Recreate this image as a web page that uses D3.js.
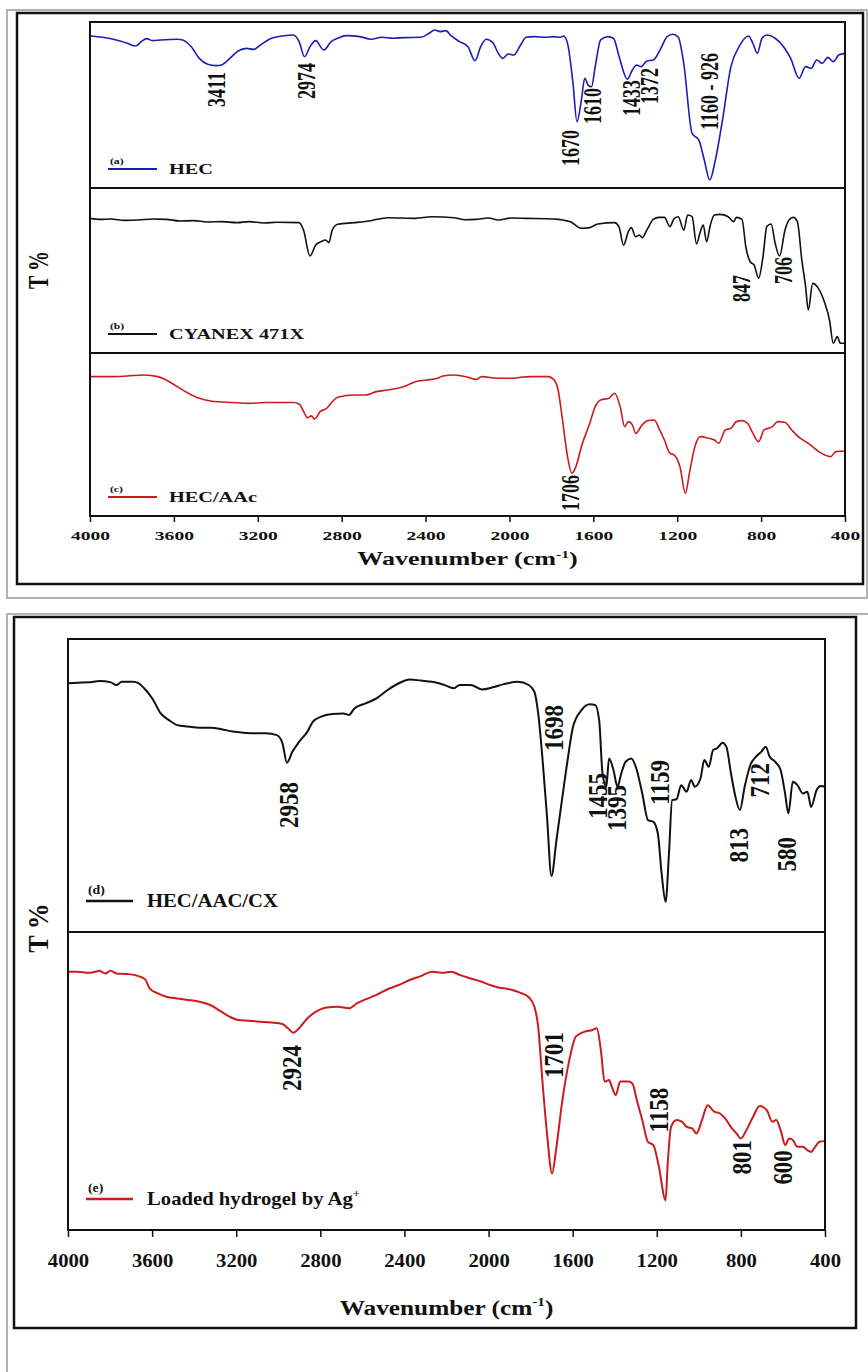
<!DOCTYPE html>
<html>
<head>
<meta charset="utf-8">
<script src="https://cdn.jsdelivr.net/npm/d3@7"></script>
<style>
  body { margin: 0; background: #fff; }
  svg { display: block; }
</style>
</head>
<body>
<svg id="chart" width="868" height="1372"></svg>
<script>
// wavenumber ticks shared by both figures
const wavenumberTicks = [4000, 3600, 3200, 2800, 2400, 2000, 1600, 1200, 800, 400];

// spectra: [wavenumber (cm-1), relative T %]
const hec = [
  [4000, 91.6], [3941, 90.8], [3888, 89.6], [3822, 87.2], [3782, 85.5], [3756, 88.2], [3729, 90.0],
  [3703, 88.8], [3663, 89.2], [3584, 89.6], [3558, 89.2], [3518, 85.2], [3479, 78.1], [3439, 74.5],
  [3399, 73.7], [3373, 74.1], [3333, 78.1], [3294, 82.5], [3254, 84.1], [3220, 83.5], [3188, 86.1],
  [3135, 90.2], [3083, 91.6], [3030, 92.2], [3003, 88.2], [2977, 79.1], [2951, 85.1], [2924, 88.8],
  [2885, 83.1], [2850, 88.2], [2819, 90.2], [2779, 91.8], [2713, 91.2], [2660, 89.6], [2607, 90.8],
  [2555, 90.2], [2502, 90.6], [2423, 90.8], [2383, 93.2], [2357, 95.2], [2330, 94.2], [2304, 94.8],
  [2277, 91.6], [2238, 88.2], [2198, 85.1], [2164, 76.7], [2137, 85.1], [2111, 89.6], [2079, 87.5],
  [2053, 81.1], [2032, 78.1], [2006, 80.7], [1979, 80.1], [1947, 86.1], [1921, 90.8], [1881, 91.2],
  [1829, 90.8], [1789, 91.2], [1757, 90.8], [1742, 91.6], [1723, 87.1], [1697, 63.0], [1678, 39.9],
  [1657, 53.0], [1641, 66.1], [1625, 62.0], [1609, 61.0], [1591, 73.1], [1565, 89.2], [1530, 91.2],
  [1504, 90.2], [1477, 79.1], [1438, 65.5], [1414, 71.1], [1393, 74.1], [1372, 73.1], [1345, 76.5],
  [1314, 77.1], [1282, 83.1], [1248, 91.2], [1221, 92.6], [1195, 90.8], [1169, 75.1], [1129, 32.9],
  [1097, 28.9], [1071, 16.9], [1045, 4.8], [1018, 16.9], [984, 41.0], [944, 73.1], [905, 85.1],
  [878, 90.2], [860, 91.6], [839, 87.1], [818, 81.1], [796, 90.2], [773, 92.2], [733, 90.2],
  [693, 85.1], [659, 78.1], [619, 66.1], [588, 73.1], [561, 72.1], [535, 77.1], [509, 75.1],
  [482, 78.7], [456, 76.1], [430, 80.1], [400, 81.1]
];

const cyanex = [
  [4000, 81.6], [3950, 81.0], [3901, 81.2], [3835, 80.4], [3769, 80.6], [3700, 81.2], [3637, 81.0],
  [3570, 80.0], [3505, 80.2], [3440, 79.4], [3373, 79.6], [3300, 79.0], [3241, 79.6], [3170, 78.8],
  [3109, 79.2], [3003, 79.0], [2982, 74.5], [2951, 58.8], [2924, 65.5], [2898, 67.5], [2877, 68.5],
  [2861, 66.9], [2845, 74.5], [2819, 78.0], [2739, 79.0], [2660, 80.2], [2581, 82.0], [2449, 81.6],
  [2370, 82.6], [2264, 82.0], [2210, 80.8], [2159, 81.0], [2100, 81.8], [2053, 80.6], [1990, 81.8],
  [1921, 81.6], [1789, 81.2], [1710, 79.6],
  [1657, 75.6], [1617, 76.0], [1578, 78.2], [1499, 79.0], [1478, 76.6], [1456, 65.3], [1433, 73.5],
  [1419, 76.0], [1398, 70.5], [1380, 71.5], [1367, 69.9], [1345, 74.5], [1314, 81.0], [1287, 82.2],
  [1261, 82.2], [1235, 76.6], [1214, 81.6], [1195, 82.6], [1169, 74.5], [1150, 83.6], [1129, 82.6],
  [1108, 66.1], [1090, 73.5], [1076, 77.6], [1060, 67.5], [1042, 77.6], [1023, 83.6], [997, 84.0],
  [957, 82.6], [931, 79.6], [918, 82.2], [891, 81.0], [873, 64.4], [852, 55.3], [833, 53.3],
  [812, 45.3], [791, 58.4], [773, 76.6], [752, 78.2], [733, 66.5], [712, 58.8], [686, 74.5],
  [667, 80.6], [646, 82.2], [627, 79.6], [606, 56.4], [588, 40.2], [575, 26.1], [554, 42.2],
  [527, 39.2], [496, 30.1], [474, 20.0], [456, 5.9], [437, 9.9], [422, 5.9], [400, 5.9]
];

const hecAAc = [
  [4000, 85.5], [3901, 85.5], [3822, 85.9], [3743, 86.5], [3677, 85.5], [3637, 83.4], [3584, 79.4],
  [3531, 75.3], [3479, 72.2], [3426, 70.6], [3320, 69.6], [3241, 69.1], [3162, 69.6], [3030, 69.6],
  [3003, 68.7], [2977, 63.0], [2964, 60.3], [2945, 61.4], [2929, 59.5], [2903, 64.0], [2871, 66.1],
  [2845, 70.1], [2819, 72.8], [2739, 74.2], [2687, 74.2], [2634, 76.3], [2581, 77.3], [2502, 79.4],
  [2449, 82.4], [2396, 83.4], [2343, 84.5], [2317, 85.9], [2264, 86.5], [2198, 85.1], [2159, 83.8],
  [2132, 85.5], [2053, 84.5], [1987, 84.5], [1947, 85.1], [1895, 85.5], [1816, 85.5], [1789, 83.8],
  [1768, 77.3], [1749, 61.0], [1723, 36.4], [1702, 26.2], [1683, 30.3], [1657, 42.5], [1617, 56.9],
  [1591, 67.1], [1565, 71.2], [1525, 72.2], [1499, 75.3], [1472, 67.1], [1451, 54.8], [1433, 57.9],
  [1414, 55.9], [1398, 50.7], [1367, 55.9], [1340, 58.5], [1309, 58.9], [1287, 53.8], [1261, 46.6],
  [1235, 38.5], [1214, 37.4], [1187, 30.3], [1161, 13.9], [1142, 26.2], [1116, 42.5], [1090, 48.7],
  [1050, 47.7], [1023, 46.6], [1002, 44.6], [971, 52.8], [944, 53.8], [918, 57.9], [891, 58.5],
  [865, 56.9], [839, 50.7], [812, 45.6], [786, 52.8], [746, 54.8], [720, 57.9], [685, 57.3],
  [654, 52.8], [614, 47.7], [575, 44.6], [535, 40.5], [496, 37.4], [469, 36.4], [443, 39.5], [400, 39.9]
];

const hecAAcCX = [
  [4000, 84.9], [3955, 85.1], [3902, 85.2], [3849, 85.7], [3796, 85.2], [3770, 84.3], [3744, 85.4],
  [3691, 85.4], [3665, 84.9], [3638, 83.2], [3599, 79.7], [3559, 74.6], [3520, 72.3], [3480, 70.6],
  [3428, 70.1], [3375, 69.7], [3322, 69.7], [3270, 69.2], [3217, 68.4], [3165, 68.0], [3112, 67.8],
  [3059, 67.8], [3007, 67.2], [2980, 64.4], [2959, 57.8], [2933, 61.5], [2901, 64.9], [2862, 68.3],
  [2835, 71.8], [2796, 73.5], [2743, 74.4], [2691, 74.6], [2664, 74.1], [2638, 76.3], [2585, 78.0],
  [2533, 79.7], [2480, 82.6], [2427, 84.9], [2375, 86.2], [2322, 85.8], [2269, 85.4], [2217, 84.5],
  [2164, 83.2], [2138, 84.3], [2085, 84.3], [2032, 82.8], [1980, 83.5], [1927, 84.6], [1861, 85.4],
  [1809, 84.3], [1782, 82.0], [1764, 74.6], [1743, 58.7], [1722, 39.3], [1701, 19.1], [1677, 31.4],
  [1651, 45.0], [1624, 58.7], [1598, 70.1], [1558, 75.7], [1519, 77.7], [1493, 77.5], [1474, 72.3],
  [1458, 54.1], [1440, 49.6], [1427, 59.2], [1406, 55.3], [1387, 49.6], [1369, 54.1], [1348, 58.1],
  [1321, 59.2], [1300, 56.4], [1269, 47.3], [1242, 38.2], [1216, 37.6], [1195, 33.6], [1177, 20.0],
  [1158, 10.3], [1142, 26.8], [1127, 45.0], [1106, 45.3], [1084, 50.1], [1058, 47.9], [1037, 51.9],
  [1019, 49.6], [992, 52.4], [974, 58.7], [953, 56.4], [932, 62.1], [913, 62.7], [887, 64.6],
  [869, 63.2], [847, 54.1], [826, 46.2], [805, 41.6], [782, 49.6], [755, 57.0], [729, 59.8],
  [703, 61.5], [682, 63.2], [663, 59.8], [637, 58.1], [611, 55.3], [590, 47.3], [574, 40.5],
  [553, 51.3], [532, 50.2], [505, 47.3], [484, 47.9], [466, 42.7], [440, 48.4], [421, 49.8], [400, 49.6]
];

const loadedAg = [
  [4000, 86.7], [3955, 86.7], [3902, 86.3], [3849, 86.9], [3823, 86.1], [3797, 87.0], [3770, 86.1],
  [3718, 85.9], [3665, 85.2], [3633, 84.1], [3612, 81.1], [3573, 79.4], [3533, 78.3], [3481, 77.7],
  [3428, 77.2], [3375, 76.6], [3323, 75.5], [3283, 73.8], [3244, 72.1], [3191, 70.5], [3138, 70.2],
  [3086, 69.9], [3033, 69.6], [2980, 69.1], [2954, 67.7], [2928, 66.2], [2901, 67.7], [2862, 71.0],
  [2822, 73.2], [2770, 74.7], [2717, 74.9], [2664, 74.4], [2625, 76.1], [2585, 77.4], [2533, 78.9],
  [2480, 80.8], [2427, 82.2], [2375, 83.9], [2322, 85.2], [2269, 86.7], [2217, 86.3], [2177, 86.7],
  [2138, 85.6], [2085, 84.4], [2032, 83.3], [1993, 82.2], [1953, 81.4], [1901, 80.8], [1848, 79.6],
  [1809, 78.1], [1782, 74.9], [1764, 68.2], [1743, 49.2], [1722, 32.4], [1698, 19.0], [1677, 27.9],
  [1651, 42.5], [1616, 57.0], [1585, 64.9], [1545, 66.5], [1506, 67.1], [1485, 67.7], [1466, 60.4],
  [1448, 49.8], [1427, 50.3], [1414, 48.1], [1395, 45.3], [1374, 49.8], [1335, 49.8], [1316, 49.2],
  [1295, 43.6], [1269, 36.9], [1242, 29.6], [1216, 28.5], [1190, 21.2], [1158, 10.0], [1148, 22.3],
  [1132, 34.6], [1106, 36.9], [1079, 36.3], [1058, 34.6], [1032, 34.1], [1011, 32.4], [985, 36.9],
  [958, 41.9], [927, 39.7], [900, 39.1], [874, 37.4], [848, 34.6], [821, 32.4], [800, 30.7],
  [774, 33.5], [742, 38.0], [711, 41.6], [677, 40.2], [650, 36.3], [632, 36.9], [611, 33.5],
  [589, 28.5], [571, 30.7], [553, 30.2], [532, 27.9], [505, 27.9], [484, 26.8], [466, 26.2],
  [447, 27.9], [426, 29.6], [400, 29.9]
];

// peak annotations: [text, wavenumber where drawn, T level of the label's upper end]
const hecPeaks = [
  ["3411", 3399, 69.9], ["2974", 2970, 75.3], ["1670", 1711, 34.9], ["1610", 1607, 60.2],
  ["1433", 1421, 65.1], ["1372", 1335, 72.3], ["1160 - 926", 1049, 81.3]
];
const cyanexPeaks = [["847", 896, 47.3], ["706", 696, 58.2]];
const hecAAcPeaks = [["1706", 1711, 25.2]];
const hecAAcCXPeaks = [
  ["2958", 2949, 51.2], ["1698", 1689, 77.5], ["1455", 1480, 54.3], ["1395", 1389, 50.2],
  ["1159", 1185, 58.7], ["813", 809, 35.5], ["712", 709, 57.7], ["580", 581, 32.4]
];
const loadedAgPeaks = [
  ["2924", 2935, 62.1], ["1701", 1689, 66.4], ["1158", 1189, 47.7], ["801", 795, 30.2], ["600", 600, 26.8]
];

const FONT = '"Liberation Serif", "Times New Roman", serif';
const BLUE = "#1d1db4";
const RED = "#cc1b1f";
const BLACK = "#111";

const svg = d3.select("#chart");
svg.append("rect").attr("width", 868).attr("height", 1372).attr("fill", "#fff");

// text helper: figures are stretched horizontally, so glyphs get scale(sx,1)
function stretchedText(g, x, y, str, size, sx, opts = {}) {
  return g.append("text")
    .attr("transform", `translate(${x},${y}) scale(${sx},1)` + (opts.rotate ? " rotate(-90)" : ""))
    .attr("font-family", FONT)
    .attr("font-weight", "bold")
    .attr("font-size", size)
    .attr("fill", opts.fill || BLACK)
    .attr("text-anchor", opts.anchor || "start")
    .attr("dy", opts.dy || 0)
    .text(str);
}

function drawFigure(cfg) {
  const g = svg.append("g");

  // outer gray border and black frame
  g.append("rect")
    .attr("x", cfg.gray[0]).attr("y", cfg.gray[1])
    .attr("width", cfg.gray[2] - cfg.gray[0]).attr("height", cfg.gray[3] - cfg.gray[1])
    .attr("fill", "none").attr("stroke", "#999").attr("stroke-width", 1.5);
  g.append("rect")
    .attr("x", cfg.frame[0]).attr("y", cfg.frame[1])
    .attr("width", cfg.frame[2] - cfg.frame[0]).attr("height", cfg.frame[3] - cfg.frame[1])
    .attr("fill", "none").attr("stroke", BLACK).attr("stroke-width", 2.5);

  const x = d3.scaleLinear().domain([4000, 400]).range([cfg.left, cfg.right]);
  const bottom = cfg.bounds[cfg.bounds.length - 1];

  cfg.panels.forEach((p, i) => {
    const y = d3.scaleLinear().domain([0, 100]).range([cfg.bounds[i + 1], cfg.bounds[i]]);
    const line = d3.line()
      .x((d) => x(d[0]))
      .y((d) => y(d[1]))
      .curve(d3.curveMonotoneX);

    g.append("path")
      .attr("d", line(p.data))
      .attr("fill", "none")
      .attr("stroke", p.color)
      .attr("stroke-width", cfg.lineWidth)
      .attr("stroke-linejoin", "round");

    // peak labels, rotated
    p.peaks.forEach(([label, wn, t]) => {
      stretchedText(g, x(wn), y(t), label, cfg.peakSize, cfg.sx,
        { rotate: true, anchor: "end", dy: "0.35em" });
    });

    // legend
    const ly = y(0) - cfg.legendRise;
    g.append("line")
      .attr("x1", cfg.left + cfg.legendX[0]).attr("x2", cfg.left + cfg.legendX[1])
      .attr("y1", ly).attr("y2", ly)
      .attr("stroke", p.color).attr("stroke-width", cfg.lineWidth + 0.3);
    stretchedText(g, cfg.left + cfg.legendX[0] + 2, ly - cfg.tagRise, p.tag, cfg.tagSize, cfg.sx);
    const lt = stretchedText(g, cfg.left + cfg.legendX[1] + cfg.legendGap, ly + cfg.legendSize * 0.33,
      p.name, cfg.legendSize, cfg.sx);
    if (p.sup) {
      lt.append("tspan").attr("font-size", cfg.legendSize * 0.6).attr("dy", -cfg.legendSize * 0.45).text(p.sup);
    }

    if (i > 0) {
      g.append("line")
        .attr("x1", cfg.left).attr("x2", cfg.right)
        .attr("y1", cfg.bounds[i]).attr("y2", cfg.bounds[i])
        .attr("stroke", BLACK).attr("stroke-width", 2);
    }
  });

  // plot frame
  g.append("rect")
    .attr("x", cfg.left).attr("y", cfg.bounds[0])
    .attr("width", cfg.right - cfg.left).attr("height", bottom - cfg.bounds[0])
    .attr("fill", "none").attr("stroke", BLACK).attr("stroke-width", 2);

  // x axis
  const axis = g.append("g")
    .attr("transform", `translate(0,${bottom})`)
    .call(d3.axisBottom(x).tickValues(wavenumberTicks).tickSize(cfg.tickLen).tickFormat(d3.format("d")));
  axis.select(".domain").remove();
  axis.selectAll(".tick line").attr("stroke", BLACK).attr("stroke-width", 1.5);
  axis.selectAll(".tick text")
    .attr("font-family", FONT)
    .attr("font-weight", "bold")
    .attr("font-size", cfg.tickSize)
    .attr("fill", BLACK)
    .attr("y", cfg.tickLabelY)
    .attr("dy", 0)
    .attr("transform", `scale(${cfg.sx},1)`);

  // axis titles
  const title = stretchedText(g, (cfg.left + cfg.right) / 2, cfg.titleY, "Wavenumber (cm", cfg.titleSize, cfg.sx,
    { anchor: "middle" });
  title.append("tspan").attr("font-size", cfg.titleSize * 0.6).attr("dy", -cfg.titleSize * 0.4).text("-1");
  title.append("tspan").attr("dy", cfg.titleSize * 0.4).text(")");

  stretchedText(g, cfg.tX, cfg.tY, "T %", cfg.tSize, cfg.sx, { rotate: true, anchor: "middle", dy: "0.35em" });
}

drawFigure({
  gray: [7, 10, 867, 598],
  frame: [17, 13, 863, 584],
  left: 90, right: 845,
  bounds: [22, 188, 353, 516],
  sx: 1.45,
  lineWidth: 1.6,
  peakSize: 18,
  legendX: [18, 67], legendRise: 19, legendGap: 12, legendSize: 14, tagSize: 8, tagRise: 5,
  tickLen: 6, tickSize: 13.5, tickLabelY: 24,
  titleY: 565, titleSize: 18,
  tX: 38, tY: 270, tSize: 20,
  panels: [
    { data: hec, color: BLUE, peaks: hecPeaks, tag: "(a)", name: "HEC" },
    { data: cyanex, color: BLACK, peaks: cyanexPeaks, tag: "(b)", name: "CYANEX 471X" },
    { data: hecAAc, color: RED, peaks: hecAAcPeaks, tag: "(c)", name: "HEC/AAc" }
  ]
});

drawFigure({
  gray: [7, 614, 880, 1390],
  frame: [14, 617, 856, 1328],
  left: 68, right: 825,
  bounds: [639, 932, 1230],
  sx: 1.15,
  lineWidth: 2,
  peakSize: 23,
  legendX: [18, 65], legendRise: 31, legendGap: 14, legendSize: 18, tagSize: 12, tagRise: 7,
  tickLen: 7, tickSize: 18, tickLabelY: 37,
  titleY: 1315, titleSize: 22,
  tX: 38, tY: 928, tSize: 26,
  panels: [
    { data: hecAAcCX, color: BLACK, peaks: hecAAcCXPeaks, tag: "(d)", name: "HEC/AAC/CX" },
    { data: loadedAg, color: RED, peaks: loadedAgPeaks, tag: "(e)", name: "Loaded hydrogel by Ag", sup: "+" }
  ]
});
</script>
</body>
</html>
